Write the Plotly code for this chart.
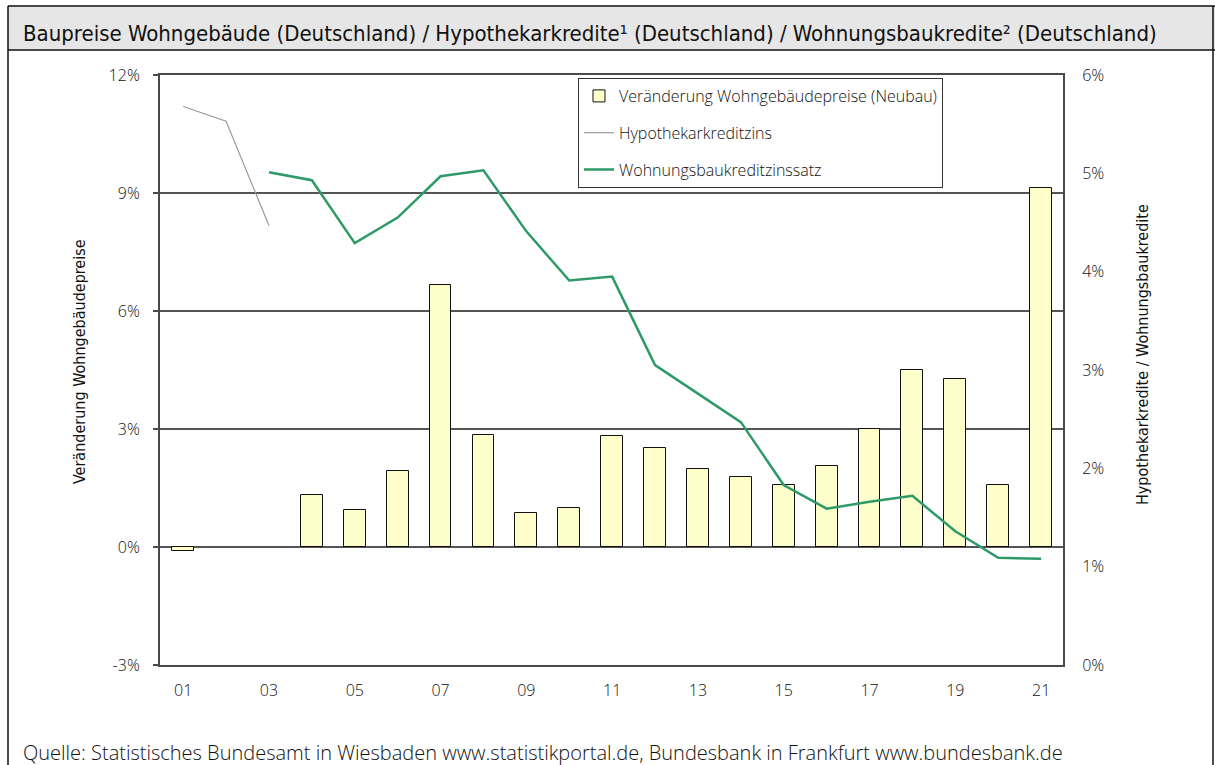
import plotly.graph_objects as go

# Jahre und Werte
years = list(range(2001, 2022))
# Veränderung der Wohngebäudepreise (Neubau), % gegenüber Vorjahr
price_change = [-0.1, None, None, 1.33, 0.94, 1.92, 6.66, 2.84, 0.86, 1.00, 2.81,
                2.52, 1.99, 1.77, 1.57, 2.07, 3.00, 4.51, 4.27, 1.57, 9.12]
# Hypothekarkreditzins, %
mortgage_years = [2001, 2002, 2003]
mortgage_rate = [5.68, 5.53, 4.47]
# Wohnungsbaukreditzinssatz, %
housing_years = list(range(2003, 2022))
housing_rate = [5.01, 4.93, 4.29, 4.55, 4.97, 5.03, 4.41, 3.91, 3.95, 3.05,
                2.76, 2.47, 1.83, 1.59, 1.66, 1.72, 1.36, 1.09, 1.08]

x_tickvals = list(range(2001, 2022, 2))
x_ticktext = ["01", "03", "05", "07", "09", "11", "13", "15", "17", "19", "21"]
left_tickvals = [-3, 0, 3, 6, 9, 12]
left_ticktext = ["-3%", "0%", "3%", "6%", "9%", "12%"]
right_tickvals = [0, 1, 2, 3, 4, 5, 6]
right_ticktext = ["0%", "1%", "2%", "3%", "4%", "5%", "6%"]

title_text = ("Baupreise Wohngebäude (Deutschland) / Hypothekarkredite¹ (Deutschland) / "
              "Wohnungsbaukredite² (Deutschland)")
source_text = ("Quelle: Statistisches Bundesamt in Wiesbaden www.statistikportal.de, "
               "Bundesbank in Frankfurt www.bundesbank.de")

W, H = 1215, 765
L, R, T, B = 160, 1063, 75, 665


def px(x):
    return (x - L) / (R - L)


def py(y):
    return (B - y) / (B - T)


LIGHT = "Open Sans"
COND = "DejaVu Sans Condensed"
AXIS_C = "#4a4a4a"

fig = go.Figure()

fig.add_trace(go.Bar(
    x=years, y=price_change, width=0.51,
    name="Veränderung Wohngebäudepreise (Neubau)",
    marker=dict(color="#FFFFCC", line=dict(color="#111111", width=1)),
    legendgroup="a",
))
fig.add_trace(go.Scatter(
    x=mortgage_years, y=mortgage_rate, yaxis="y2", mode="lines",
    name="Hypothekarkreditzins",
    line=dict(color="#9a9a9a", width=1.2),
    legendgroup="b",
))
fig.add_trace(go.Scatter(
    x=housing_years, y=housing_rate, yaxis="y2", mode="lines",
    name="Wohnungsbaukreditzinssatz",
    line=dict(color="#2E9A68", width=2.5),
    legendgroup="c",
))

shapes = [
    # Titelleiste
    dict(type="rect", xref="paper", yref="paper",
         x0=px(8), x1=px(1216), y0=py(50), y1=py(6),
         fillcolor="#e6e6e6", line=dict(width=0), layer="below"),
    dict(type="line", xref="paper", yref="paper",
         x0=px(8), x1=px(1216), y0=py(6), y1=py(6),
         line=dict(color="#111111", width=1.5)),
    dict(type="line", xref="paper", yref="paper",
         x0=px(8), x1=px(1216), y0=py(50), y1=py(50),
         line=dict(color="#111111", width=1.5)),
    # Rahmen links / rechts
    dict(type="line", xref="paper", yref="paper",
         x0=px(8), x1=px(8), y0=py(6), y1=py(780),
         line=dict(color="#111111", width=1.5)),
    dict(type="line", xref="paper", yref="paper",
         x0=px(1213), x1=px(1213), y0=py(6), y1=py(780),
         line=dict(color="#111111", width=1.5)),
]

annotations = [
    dict(text=title_text, xref="paper", yref="paper", x=px(21), y=py(33),
         xanchor="left", yanchor="middle", showarrow=False,
         font=dict(family=COND, size=22, color="#111111")),
    dict(text=source_text, xref="paper", yref="paper", x=px(21), y=py(752),
         xanchor="left", yanchor="middle", showarrow=False,
         font=dict(family=LIGHT, size=20, color="#111111", weight=300)),
    dict(text="Veränderung Wohngebäudepreise", xref="paper", yref="paper",
         x=px(79), y=py(362), xanchor="center", yanchor="middle",
         textangle=-90, showarrow=False,
         font=dict(family=COND, size=16, color="#111111")),
    dict(text="Hypothekarkredite / Wohnungsbaukredite", xref="paper", yref="paper",
         x=px(1142), y=py(355), xanchor="center", yanchor="middle",
         textangle=-90, showarrow=False,
         font=dict(family=COND, size=16, color="#111111")),
]

tick_font = dict(family=LIGHT, size=16, color="#111111", weight=300)

fig.update_layout(
    width=W, height=H,
    margin=dict(l=L, r=W - R, t=T, b=H - B, pad=0),
    paper_bgcolor="white", plot_bgcolor="white",
    showlegend=True,
    legend=dict(x=px(578), y=py(78), xanchor="left", yanchor="top",
                bordercolor="#333333", borderwidth=1, bgcolor="white",
                font=dict(family=LIGHT, size=16, color="#111111", weight=300),
                tracegroupgap=13, traceorder="grouped", itemwidth=30),
    bargap=0,
    xaxis=dict(range=[2000.46, 2021.51], tickvals=x_tickvals, ticktext=x_ticktext,
               showgrid=False, zeroline=False, showline=True, mirror=True,
               linecolor=AXIS_C, linewidth=2, ticks="", tickfont=tick_font,
               ticklabelstandoff=10),
    yaxis=dict(range=[-3, 12], tickvals=left_tickvals, ticktext=left_ticktext,
               showgrid=True, gridcolor="#555555", gridwidth=1.5,
               zeroline=True, zerolinecolor="#555555", zerolinewidth=1.5,
               showline=True, linecolor=AXIS_C, linewidth=2,
               ticks="outside", ticklen=5, tickcolor=AXIS_C, tickwidth=2,
               tickfont=tick_font, ticklabelstandoff=10),
    yaxis2=dict(range=[0, 6], tickvals=right_tickvals, ticktext=right_ticktext,
                overlaying="y", side="right", showgrid=False, zeroline=False,
                showline=True, linecolor=AXIS_C, linewidth=2, ticks="",
                tickfont=tick_font, ticklabelstandoff=14),
    shapes=shapes,
    annotations=annotations,
)

fig.write_html("out.html")
